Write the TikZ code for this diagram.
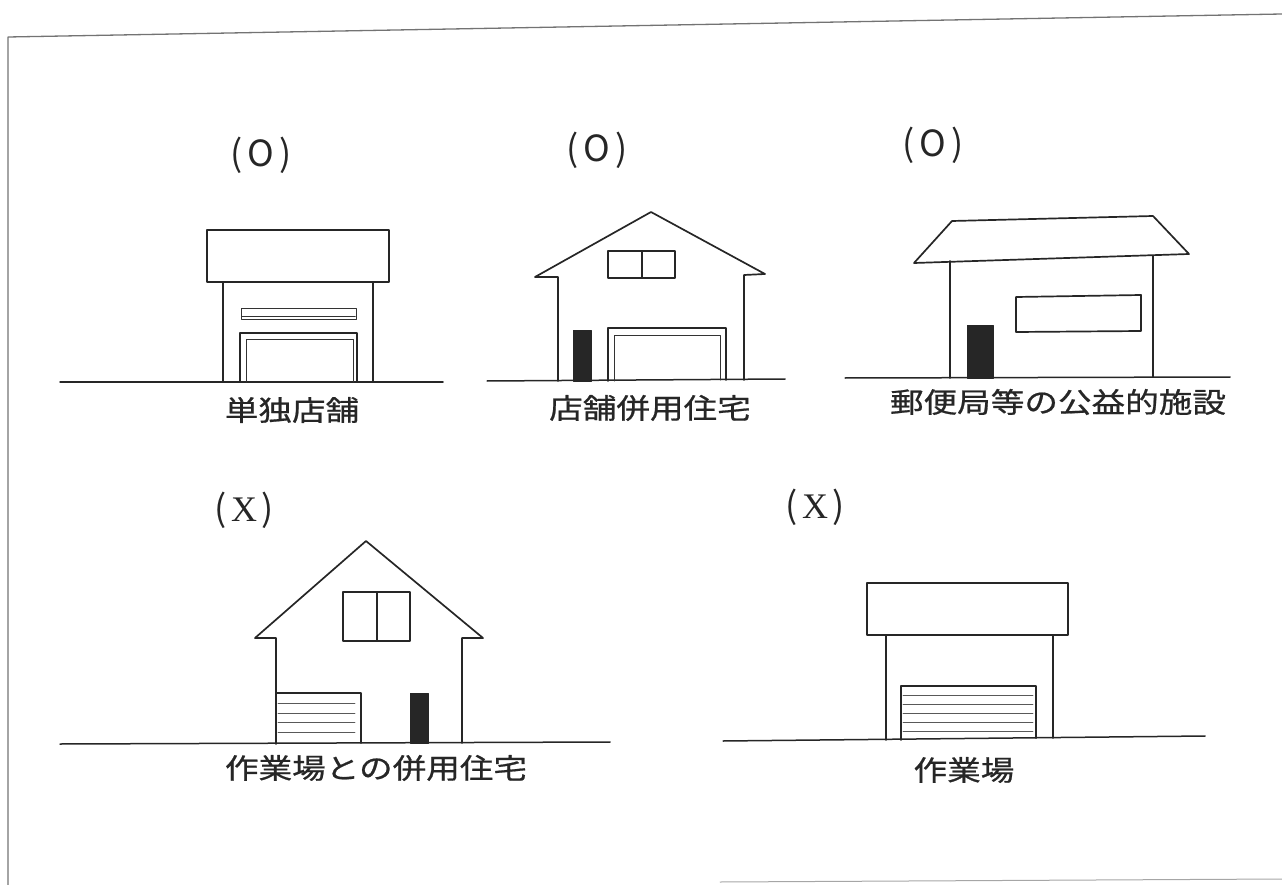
\documentclass[tikz,border=0pt]{standalone}
\usepackage{fontspec}
\newfontfamily\jp[FakeBold=0.7]{Noto Sans CJK JP}
\newfontfamily\jplight{Noto Sans CJK JP}
\newfontfamily\serifx{Liberation Serif}
\begin{document}
\begin{tikzpicture}[x=1pt,y=-1pt,line join=round,line cap=round,
  wall/.style={line width=1.7pt,draw=black!85},
  thinline/.style={line width=1pt,draw=black!80},
  slat/.style={line width=0.8pt,draw=black!65},
  ground/.style={line width=1.5pt,draw=black!85},
  caption/.style={font=\jp\fontsize{28}{28}\selectfont,xscale=1.2,inner sep=0pt,text=black!85},
  verdict/.style={font=\jplight\fontsize{36}{36}\selectfont,inner sep=0pt,text=black!85},
  doorfill/.style={fill=black!85,draw=black!85,line width=1pt}]
\useasboundingbox (0,0) rectangle (1282,885);

% sheet edges
\draw[line width=1.3pt,draw=black!55] (8,885) -- (8,37) -- (1282,14);
\draw[line width=1pt,draw=black!35] (720,882) -- (1282,879);

% ---------- single shop ----------
\draw[ground] (60,382) -- (443,382);
\draw[wall] (207,230) rectangle (389,282);
\draw[wall] (223,282) -- (223,382) (373,282) -- (373,382);
\draw[thinline] (241,308) rectangle (356,319);
\draw[line width=1.8pt,draw=black!80] (242,316.5) -- (355,316.5);
\draw[wall] (240,382) -- (240,333) -- (357,333) -- (357,382);
\draw[thinline] (246,382) -- (246,339) -- (353,339) -- (353,382);
\node[verdict] (v1) at (261,155) {(\kern5pt O\kern5pt)};
\node[caption] (c1) at (292,410) {単独店舗};

% ---------- shop combined with dwelling ----------
\draw[ground] (487,381) -- (785,379);
\draw[wall] (558,381) -- (558,277) -- (535,277) -- (651,212) -- (765,274) -- (744,275) -- (744,380);
\draw[wall] (608,251) rectangle (675,278);
\draw[wall] (642,251) -- (642,278);
\draw[doorfill] (573,330) rectangle (591,381);
\draw[wall] (608,381) -- (608,328) -- (726,328) -- (726,380);
\draw[thinline] (614,381) -- (614,335) -- (720,335) -- (720,380);
\node[verdict] (v2) at (597,150) {(\kern5pt O\kern5pt)};
\node[caption] (c2) at (650,408) {店舗併用住宅};

% ---------- post office and similar public facility ----------
\draw[ground] (845,378) -- (1230,377);
\draw[wall] (914,263) -- (952,221) -- (1153,216) -- (1189,254) -- cycle;
\draw[wall] (950,261) -- (950,378) (1153,256) -- (1153,377);
\draw[wall] (1016,297) -- (1141,295) -- (1141,331) -- (1016,332) -- cycle;
\draw[doorfill] (967,325) rectangle (993,378);
\node[verdict] (v3) at (933,145) {(\kern5pt O\kern5pt)};
\node[caption] (c3) at (1058,402) {郵便局等の公益的施設};

% ---------- dwelling combined with workshop ----------
\draw[ground] (60,744) -- (610,742);
\draw[wall] (276,744) -- (276,638) -- (255,638) -- (366,541) -- (483,638) -- (462,638) -- (462,743);
\draw[wall] (343,592) rectangle (410,641);
\draw[wall] (377,592) -- (377,641);
\draw[wall] (276,693) -- (361,693) -- (361,743);
\foreach \yy in {703,713,722,732}
  \draw[slat] (278,\yy) -- (355,\yy);
\draw[doorfill] (410,693) rectangle (428,743);
\node[verdict] (v4) at (244,510) {(\kern4pt{\serifx X}\kern4pt)};
\node[caption] (c4) at (376,768) {作業場との併用住宅};

% ---------- workshop ----------
\draw[ground] (723,741) -- (1205,736);
\draw[wall] (867,583) rectangle (1068,635);
\draw[wall] (886,635) -- (886,740) (1053,635) -- (1053,738);
\draw[wall] (901,740) -- (901,686) -- (1036,686) -- (1036,738);
\foreach \yy in {695,704,713,722,731}
  \draw[slat] (903,\yy) -- (1033,\yy);
\node[verdict] (v5) at (815,507) {(\kern4pt{\serifx X}\kern4pt)};
\node[caption] (c5) at (964,770) {作業場};
\end{tikzpicture}
\end{document}
